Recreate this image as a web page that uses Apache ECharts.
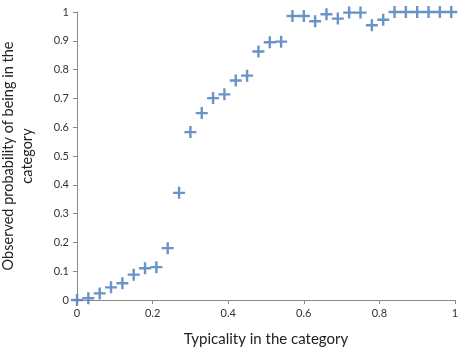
<!DOCTYPE html>
<html>
<head>
<meta charset="utf-8">
<script src="https://cdn.jsdelivr.net/npm/echarts@6/dist/echarts.min.js"></script>
<style>
  html, body { margin: 0; padding: 0; background: #fff; }
  #chart { width: 469px; height: 362px; }
</style>
</head>
<body>
<div id="chart"></div>
<script>
// typicality (x) and observed probability (y)
const typicality = [
  0, 0.03, 0.06, 0.09, 0.12, 0.15, 0.18, 0.21, 0.24, 0.27,
  0.30, 0.33, 0.36, 0.39, 0.42, 0.45, 0.48, 0.51, 0.54, 0.57,
  0.60, 0.63, 0.66, 0.69, 0.72, 0.75, 0.78, 0.81, 0.84, 0.87,
  0.90, 0.93, 0.96, 0.99
]
const probability = [
  0, 0.006, 0.023, 0.044, 0.058, 0.088, 0.11, 0.114, 0.18, 0.372,
  0.583, 0.649, 0.701, 0.714, 0.762, 0.779, 0.863, 0.895, 0.897, 0.986,
  0.986, 0.968, 0.992, 0.977, 0.998, 0.998, 0.954, 0.973, 1, 1,
  1, 1, 1, 1
]
const xTitle = 'Typicality in the category'
const yTitle = 'Observed probability of being in the\ncategory'

const font = 'Lato, "Open Sans", sans-serif'
const plus = 'path://M4,0 L6,0 L6,4 L10,4 L10,6 L6,6 L6,10 L4,10 L4,6 L0,6 L0,4 L4,4 Z'

const chart = echarts.init(document.getElementById('chart'))
chart.setOption({
  animation: false,
  grid: { left: 77, right: 14, top: 12, bottom: 62, outerBoundsMode: 'none', containLabel: false },
  xAxis: {
    type: 'value',
    min: 0, max: 1, interval: 0.2,
    name: xTitle,
    nameLocation: 'middle',
    nameGap: 32,
    nameTextStyle: { fontFamily: font, fontSize: 15, color: '#222' },
    axisLine: { lineStyle: { color: '#888' } },
    axisTick: { show: true, length: 4, lineStyle: { color: '#888' } },
    axisLabel: { fontFamily: font, fontSize: 11, color: '#333', margin: 8 },
    splitLine: { show: false }
  },
  yAxis: {
    type: 'value',
    min: 0, max: 1, interval: 0.1,
    name: yTitle,
    nameLocation: 'middle',
    nameRotate: 90,
    nameGap: 40,
    nameTextStyle: { fontFamily: font, fontSize: 14.5, color: '#222', lineHeight: 19 },
    axisLine: { show: true, lineStyle: { color: '#888' } },
    axisTick: { show: true, length: 4, lineStyle: { color: '#888' } },
    axisLabel: { fontFamily: font, fontSize: 11, color: '#333', margin: 8 },
    splitLine: { show: false }
  },
  series: [{
    type: 'scatter',
    symbol: plus,
    symbolSize: 12,
    itemStyle: { color: '#5a88c2', opacity: 0.9 },
    data: typicality.map((x, i) => [x, probability[i]])
  }]
})
</script>
</body>
</html>
